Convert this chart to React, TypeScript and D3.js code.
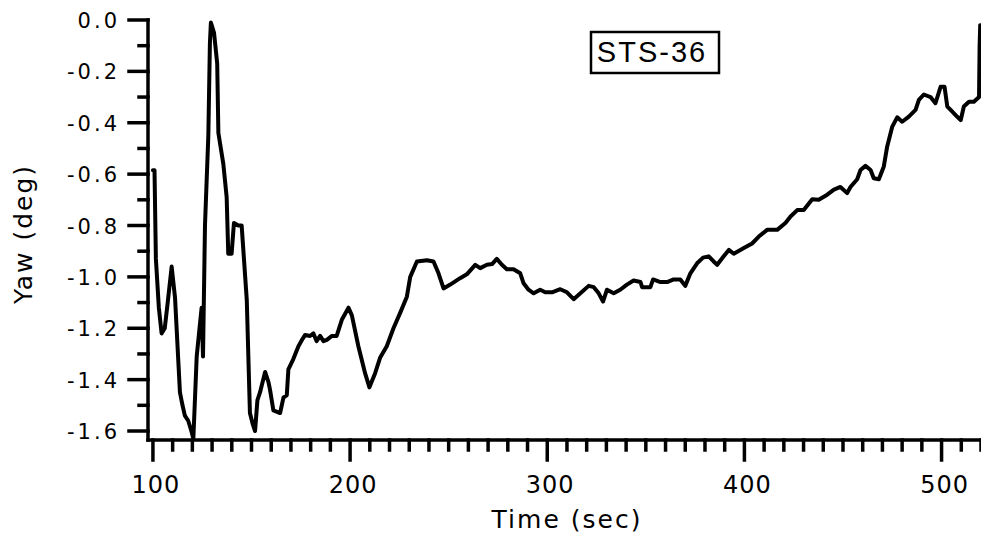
import React from 'react';
import { scaleLinear, line, range } from 'd3';

// time (sec) and yaw (deg)
const timeSec = [
  100.0, 100.8, 101.5, 103.0, 104.4, 106.0, 107.5, 109.5, 111.2, 113.7, 115.0, 116.2, 117.9, 119.5, 120.5,
  122.2, 123.5, 124.7, 125.4, 126.4, 128.1, 128.9, 129.4, 131.0, 132.6, 133.2, 135.7, 137.4, 138.2, 139.9,
  141.1, 143.3, 145.0, 147.6, 149.2, 150.5, 151.8, 153.0, 154.3, 156.9, 158.6, 159.4, 161.1, 164.5, 166.2,
  167.9, 168.7, 171.2, 173.8, 176.0, 177.2, 179.7, 181.4, 183.0, 184.8, 186.5, 188.2, 190.8, 193.2, 195.8,
  199.2, 200.9, 204.2, 207.6, 209.8, 212.7, 215.2, 218.6, 222.0, 225.4, 228.8, 230.5, 233.9, 239.0, 242.3,
  244.8, 247.4, 250.8, 255.8, 259.2, 263.5, 266.0, 269.4, 272.0, 274.4, 277.0, 279.5, 282.9, 286.3, 288.0,
  290.5, 293.1, 296.4, 299.0, 302.4, 306.6, 310.0, 313.4, 316.8, 321.0, 323.6, 326.1, 328.3, 330.3, 333.7,
  337.0, 340.4, 343.8, 347.3, 348.1, 352.3, 353.7, 357.4, 360.8, 364.1, 367.5, 370.0, 372.6, 376.0, 379.0,
  381.9, 384.4, 386.2, 389.5, 392.1, 394.6, 399.7, 403.9, 407.3, 411.5, 416.6, 420.8, 423.4, 426.8, 430.1,
  434.4, 437.7, 442.0, 445.4, 448.7, 452.1, 453.8, 457.2, 458.9, 461.4, 464.0, 465.6, 468.2, 470.7, 472.4,
  475.0, 477.5, 480.0, 483.4, 486.8, 488.5, 491.0, 494.4, 496.9, 499.5, 501.5, 502.9, 504.6, 507.1, 509.7,
  511.3, 513.9, 516.4, 519.0, 519.3, 519.6,
];

const yawDeg = [
  -0.585, -0.585, -0.93, -1.12, -1.22, -1.2, -1.1, -0.96, -1.08, -1.45, -1.5, -1.54, -1.56, -1.6, -1.63,
  -1.31, -1.21, -1.12, -1.31, -0.8, -0.45, -0.09, -0.01, -0.05, -0.17, -0.44, -0.56, -0.69, -0.91, -0.91,
  -0.79, -0.8, -0.8, -1.09, -1.53, -1.57, -1.6, -1.48, -1.45, -1.37, -1.41, -1.44, -1.52, -1.53, -1.47,
  -1.46, -1.36, -1.32, -1.27, -1.24, -1.226, -1.23, -1.22, -1.25, -1.23, -1.25, -1.245, -1.23, -1.23, -1.167,
  -1.12, -1.15, -1.27, -1.375, -1.43, -1.375, -1.315, -1.27, -1.2, -1.14, -1.077, -1.0, -0.94, -0.935, -0.94,
  -0.985, -1.045, -1.03, -1.005, -0.99, -0.953, -0.966, -0.953, -0.95, -0.93, -0.953, -0.97, -0.97, -0.986, -1.025,
  -1.05, -1.064, -1.05, -1.06, -1.06, -1.048, -1.06, -1.087, -1.064, -1.035, -1.04, -1.064, -1.096, -1.05, -1.064,
  -1.05, -1.03, -1.014, -1.02, -1.04, -1.04, -1.01, -1.02, -1.02, -1.01, -1.01, -1.035, -0.986, -0.947, -0.925,
  -0.92, -0.94, -0.953, -0.92, -0.895, -0.91, -0.888, -0.87, -0.843, -0.817, -0.817, -0.79, -0.765, -0.74, -0.74,
  -0.698, -0.7, -0.68, -0.66, -0.65, -0.674, -0.65, -0.62, -0.584, -0.568, -0.584, -0.616, -0.62, -0.57, -0.493,
  -0.415, -0.379, -0.396, -0.376, -0.35, -0.311, -0.29, -0.3, -0.324, -0.26, -0.26, -0.337, -0.35, -0.37, -0.39,
  -0.337, -0.318, -0.318, -0.3, -0.1, -0.02,
];

const xTickLabels = [100, 200, 300, 400, 500];
const yTickLabels = [0, -0.2, -0.4, -0.6, -0.8, -1.0, -1.2, -1.4, -1.6];
const runLabel = 'STS-36';

const W = 981;
const H = 541;
const font = '"DejaVu Sans", sans-serif';

const App: React.FC = () => {
  const x = scaleLinear().domain([97.5, 520]).range([148, 981]);
  const y = scaleLinear().domain([-1.635, 0]).range([440, 20]);

  const pts = timeSec.map((t, i) => [t, yawDeg[i]] as [number, number]);
  const path = line<[number, number]>()
    .x(d => x(d[0]))
    .y(d => y(d[1]))(pts) || '';

  const xMinor = range(100, 521, 10);
  const yMinor = range(0, 17).map(i => -i / 10);

  return (
    <svg width={W} height={H} style={{ position: 'absolute', left: 0, top: 0, background: '#fff' }}>
      <rect width={W} height={H} fill="#fff" />
      {/* axes */}
      <g stroke="#000" strokeWidth={3.5} strokeLinecap="square">
        <line x1={148} x2={148} y1={y(0)} y2={440} />
        <line x1={148} x2={981} y1={440} y2={440} />
        {yMinor.map((v, i) => (
          <line key={'yt' + i} x1={148} x2={i % 2 === 0 ? 129 : 139} y1={y(v)} y2={y(v)} />
        ))}
        {xMinor.map((t, i) => (
          <line key={'xt' + i} x1={x(t)} x2={x(t)} y1={440} y2={t % 100 === 0 ? 460 : 450} />
        ))}
      </g>
      {/* tick labels */}
      <g fontFamily={font} fontSize={21} fill="#000" textAnchor="end" letterSpacing={3}>
        {yTickLabels.map(v => (
          <text key={'yl' + v} x={120} y={y(v) + 8}>{v === 0 ? '0.0' : v.toFixed(1)}</text>
        ))}
      </g>
      <g fontFamily={font} fontSize={24} fill="#000" textAnchor="middle" letterSpacing={1}>
        {xTickLabels.map(t => (
          <text key={'xl' + t} x={x(t) + 3} y={493}>{t}</text>
        ))}
      </g>
      {/* axis titles */}
      <text x={567} y={528} fontFamily={font} fontSize={25} textAnchor="middle" letterSpacing={2}>Time (sec)</text>
      <text transform="translate(32,234) rotate(-90)" fontFamily={font} fontSize={25} textAnchor="middle" letterSpacing={2}>Yaw (deg)</text>
      {/* run label */}
      <rect x={591} y={32} width={128} height={41} fill="#fff" stroke="#000" strokeWidth={2.5} />
      <text x={652} y={62} fontFamily='"Liberation Sans", Arial, sans-serif' fontSize={29} textAnchor="middle" letterSpacing={2}>{runLabel}</text>
      {/* data */}
      <path d={path} fill="none" stroke="#000" strokeWidth={4} strokeLinejoin="round" strokeLinecap="round" />
    </svg>
  );
};

export default App;
